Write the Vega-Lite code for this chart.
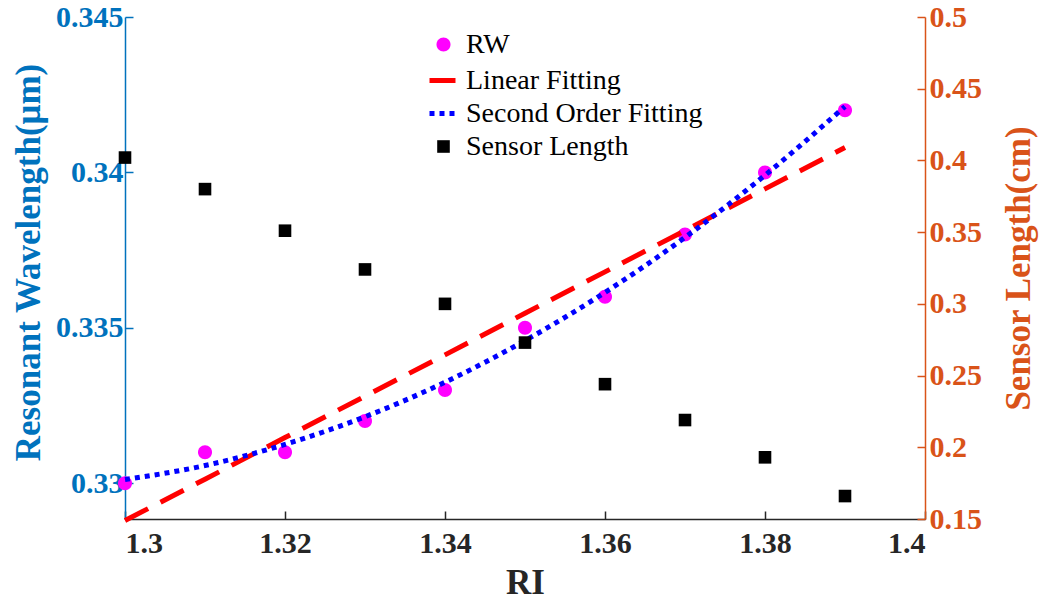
{
  "$schema": "https://vega.github.io/schema/vega-lite/v6.json",
  "width": 800,
  "height": 502,
  "autosize": "none",
  "padding": {"left": 125, "top": 17, "right": 114, "bottom": 87},
  "background": "white",
  "config": {
    "view": {"stroke": null},
    "font": "Liberation Serif",
    "axis": {"grid": false, "labelFont": "Liberation Serif", "titleFont": "Liberation Serif", "labelFontWeight": "bold", "titleFontWeight": "bold", "labelFontSize": 30, "titleFontSize": 35, "tickWidth": 1.5, "domainWidth": 1.5},
    "legend": {"orient": "none", "legendX": 302, "legendY": 11, "title": null, "labelFont": "Liberation Serif", "labelFontSize": 28, "labelColor": "#000000", "labelFontWeight": "normal", "rowPadding": 2, "labelOffset": 6, "labelLimit": 500, "symbolOpacity": 1, "symbolSize": 784, "symbolStrokeWidth": 5}
  },
  "datasets": {
    "rw": [
      {"ri": 1.30, "rw": 0.330}, {"ri": 1.31, "rw": 0.331}, {"ri": 1.32, "rw": 0.331}, {"ri": 1.33, "rw": 0.332}, {"ri": 1.34, "rw": 0.333},
      {"ri": 1.35, "rw": 0.335}, {"ri": 1.36, "rw": 0.336}, {"ri": 1.37, "rw": 0.338}, {"ri": 1.38, "rw": 0.340}, {"ri": 1.39, "rw": 0.342}
    ],
    "linear": [
      {"ri": 1.30, "rw": 0.32880}, {"ri": 1.31, "rw": 0.33013}, {"ri": 1.32, "rw": 0.33147}, {"ri": 1.33, "rw": 0.33280}, {"ri": 1.34, "rw": 0.33413},
      {"ri": 1.35, "rw": 0.33547}, {"ri": 1.36, "rw": 0.33680}, {"ri": 1.37, "rw": 0.33813}, {"ri": 1.38, "rw": 0.33947}, {"ri": 1.39, "rw": 0.34080}
    ],
    "quad": [
      {"ri": 1.30, "rw": 0.33012}, {"ri": 1.31, "rw": 0.33057}, {"ri": 1.32, "rw": 0.33125}, {"ri": 1.33, "rw": 0.33214}, {"ri": 1.34, "rw": 0.33325},
      {"ri": 1.35, "rw": 0.33459}, {"ri": 1.36, "rw": 0.33614}, {"ri": 1.37, "rw": 0.33791}, {"ri": 1.38, "rw": 0.33991}, {"ri": 1.39, "rw": 0.34212}
    ],
    "sensor": [
      {"ri": 1.30, "len": 0.402}, {"ri": 1.31, "len": 0.380}, {"ri": 1.32, "len": 0.351}, {"ri": 1.33, "len": 0.324}, {"ri": 1.34, "len": 0.300},
      {"ri": 1.35, "len": 0.273}, {"ri": 1.36, "len": 0.244}, {"ri": 1.37, "len": 0.219}, {"ri": 1.38, "len": 0.193}, {"ri": 1.39, "len": 0.166}
    ]
  },
  "layer": [
    {
      "encoding": {
        "x": {"field": "ri", "type": "quantitative", "scale": {"domain": [1.3, 1.4], "nice": false, "zero": false},
          "axis": {"values": [1.3, 1.32, 1.34, 1.36, 1.38, 1.4], "format": ".2~f", "title": "RI", "domainColor": "#262626", "tickColor": "#262626", "labelColor": "#262626", "titleColor": "#262626", "tickSize": -8, "labelPadding": 17, "titleBaseline": "alphabetic", "titleY": 74}},
        "y": {"field": "rw", "type": "quantitative", "scale": {"domain": [0.32885, 0.345], "nice": false, "zero": false},
          "axis": {"values": [0.33, 0.335, 0.34, 0.345], "format": ".3~f", "title": "Resonant Wavelength(μm)", "domainColor": "#0072BD", "tickColor": "#0072BD", "labelColor": "#0072BD", "titleColor": "#0072BD", "tickSize": -8, "labelPadding": 10, "titleAngle": 270, "titleBaseline": "middle", "titleAlign": "center", "titleX": -97, "titleY": 245}}
      },
      "layer": [
        {
          "data": {"name": "rw"},
          "mark": {"type": "point", "filled": true, "opacity": 1, "size": 784},
          "encoding": {
            "color": {"datum": "RW", "type": "nominal",
              "scale": {"domain": ["RW", "Linear Fitting", "Second Order Fitting", "Sensor Length"], "range": ["#FF00FF", "#FF0000", "#0000FF", "#000000"]}},
            "shape": {"datum": "RW", "type": "nominal",
              "scale": {"domain": ["RW", "Linear Fitting", "Second Order Fitting", "Sensor Length"], "range": ["M-0.5,0A0.5,0.5,0,1,1,0.5,0A0.5,0.5,0,1,1,-0.5,0Z", "stroke", "stroke", "M-0.45,-0.45L0.45,-0.45L0.45,0.45L-0.45,0.45Z"]}},
            "strokeDash": {"datum": "RW", "type": "nominal",
              "scale": {"domain": ["RW", "Linear Fitting", "Second Order Fitting", "Sensor Length"], "range": [[0, 100], [26, 14], [5, 5], [0, 100]]}}
          }
        },
        {
          "data": {"name": "linear"},
          "mark": {"type": "line", "strokeWidth": 5},
          "encoding": {
            "color": {"datum": "Linear Fitting", "type": "nominal"},
            "strokeDash": {"datum": "Linear Fitting", "type": "nominal"}
          }
        },
        {
          "data": {"name": "quad"},
          "mark": {"type": "line", "strokeWidth": 5, "interpolate": "monotone"},
          "encoding": {
            "color": {"datum": "Second Order Fitting", "type": "nominal"},
            "strokeDash": {"datum": "Second Order Fitting", "type": "nominal"}
          }
        }
      ]
    },
    {
      "data": {"name": "sensor"},
      "mark": {"type": "point", "filled": true, "opacity": 1, "size": 784},
      "encoding": {
        "x": {"field": "ri", "type": "quantitative", "scale": {"domain": [1.3, 1.4], "nice": false, "zero": false}},
        "y": {"field": "len", "type": "quantitative", "scale": {"domain": [0.15, 0.5], "nice": false, "zero": false},
          "axis": {"orient": "right", "values": [0.15, 0.2, 0.25, 0.3, 0.35, 0.4, 0.45, 0.5], "format": ".2~f", "title": "Sensor Length(cm)", "domainColor": "#D95319", "tickColor": "#D95319", "labelColor": "#D95319", "titleColor": "#D95319", "tickSize": -8, "labelPadding": 12, "titleAngle": 270, "titleBaseline": "middle", "titleAlign": "center", "titleX": 93, "titleY": 251}},
        "color": {"datum": "Sensor Length", "type": "nominal"},
        "shape": {"datum": "Sensor Length", "type": "nominal"},
        "strokeDash": {"datum": "Sensor Length", "type": "nominal"}
      }
    }
  ],
  "resolve": {"scale": {"y": "independent"}}
}
